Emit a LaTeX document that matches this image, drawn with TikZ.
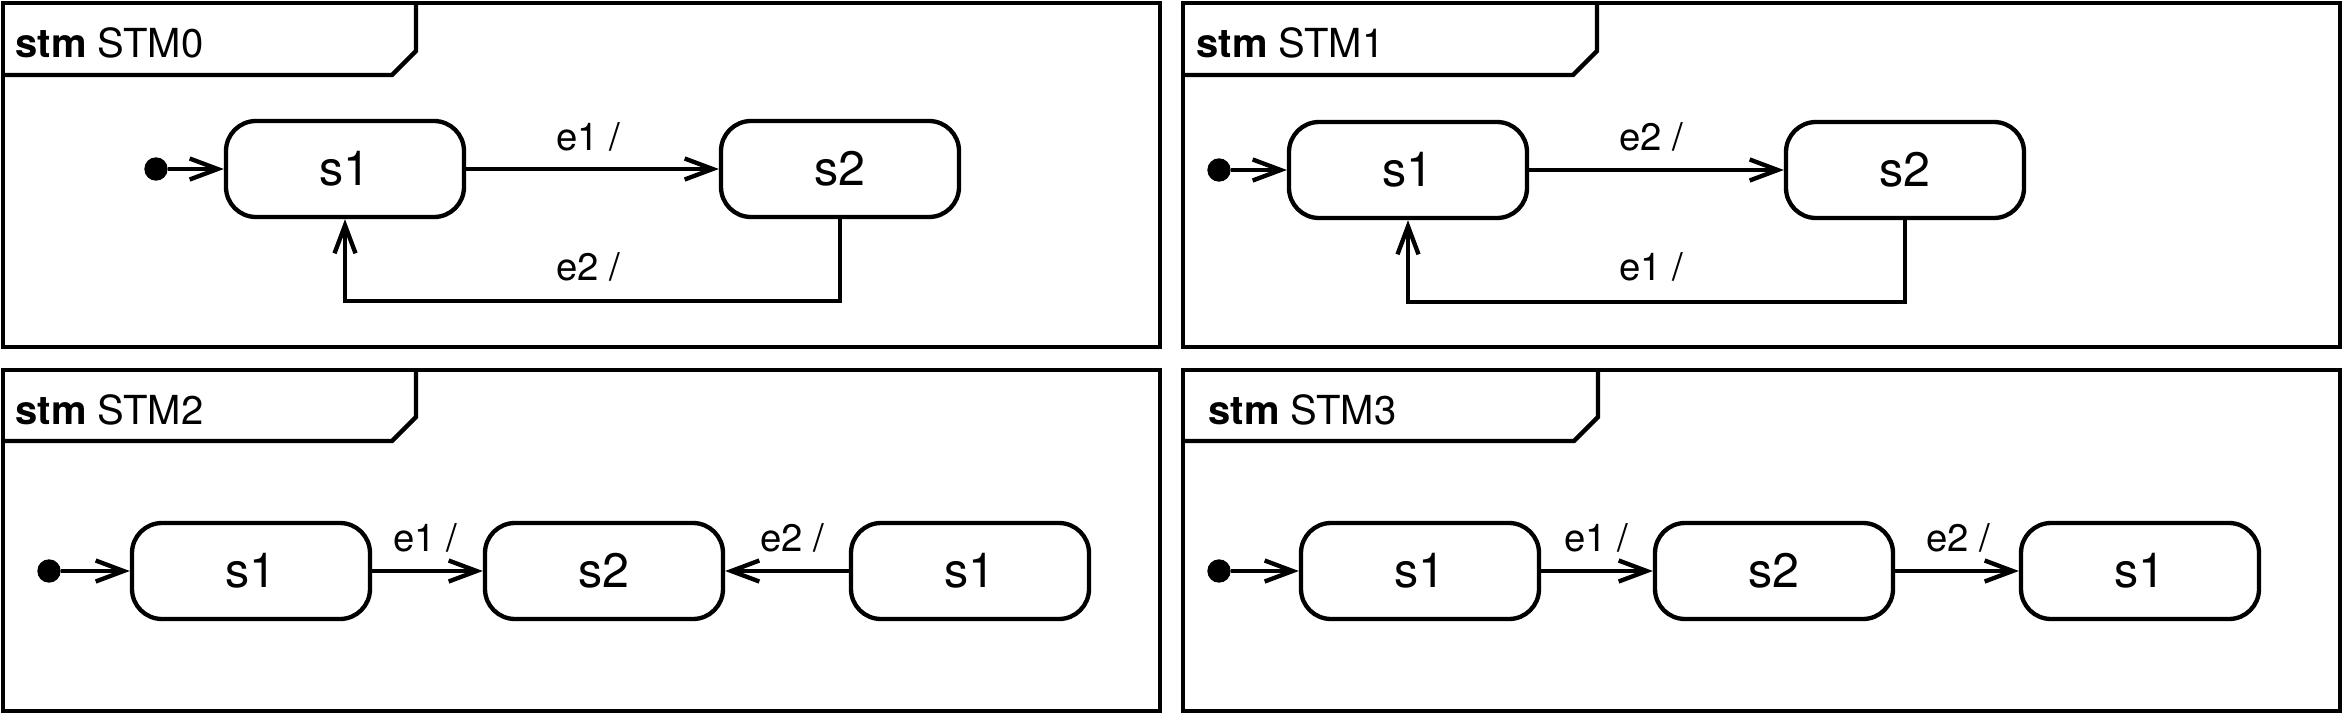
\documentclass[tikz,border=0pt]{standalone}
\usepackage{fontspec}
\setmainfont{TeX Gyre Heros}
\usetikzlibrary{arrows.meta}
\begin{document}
\begin{tikzpicture}[x=0.3pt,y=-0.3pt,
  frm/.style={line width=1.3pt,line join=miter},
  state/.style={draw,line width=1.3pt,rounded corners=9pt,minimum width=71.4pt,minimum height=28.8pt,inner sep=0pt,font=\fontsize{14.5}{17}\selectfont},
  init/.style={circle,fill,inner sep=0pt,minimum size=7pt},
  trans/.style={line width=1pt,-{Straight Barb[length=8.4pt,width=6.3pt,line width=1.3pt]}},
  lbl/.style={font=\fontsize{11.5}{13}\selectfont,inner sep=0pt},
  ttl/.style={font=\fontsize{12}{14}\selectfont,anchor=base west,inner sep=0pt}
]
\useasboundingbox (0,0) rectangle (2345,716);
% ---------- frames ----------
\draw[frm] (3,3) rectangle (1160,347);
\draw[frm] (3,75) -- (392,75) -- (416,51) -- (416,3);
\draw[frm] (1183,3) rectangle (2340,347);
\draw[frm] (1183,75) -- (1573,75) -- (1597,51) -- (1597,3);
\draw[frm] (3,370) rectangle (1160,711);
\draw[frm] (3,441) -- (392,441) -- (416,417) -- (416,370);
\draw[frm] (1183,370) rectangle (2340,711);
\draw[frm] (1183,441) -- (1574,441) -- (1598,417) -- (1598,370);
\node[ttl] (t0) at (15,58) {\textbf{stm} STM0};
\node[ttl] (t1) at (1196,58) {\textbf{stm} STM1};
\node[ttl] (t2) at (15,424) {\textbf{stm} STM2};
\node[ttl] (t3) at (1208,424) {\textbf{stm} STM3};
% ---------- STM0 ----------
\node[init] (i0) at (156,169) {};
\node[state] (a1) at (345,169) {s1};
\node[state] (a2) at (840,169) {s2};
\coordinate (ar) at (0,301);
\draw[trans] (i0) -- (a1);
\draw[trans] (a1) -- (a2);
\draw[trans] (a2.south) -- (a2.south |- ar) -| (a1.south);
\node[lbl] (la1) at (588,137) {e1 /};
\node[lbl] (la2) at (588,267) {e2 /};
% ---------- STM1 ----------
\node[init] (i1) at (1219,170) {};
\node[state] (b1) at (1408,170) {s1};
\node[state] (b2) at (1905,170) {s2};
\coordinate (br) at (0,302);
\draw[trans] (i1) -- (b1);
\draw[trans] (b1) -- (b2);
\draw[trans] (b2.south) -- (b2.south |- br) -| (b1.south);
\node[lbl] (lb1) at (1651,137) {e2 /};
\node[lbl] (lb2) at (1651,267) {e1 /};
% ---------- STM2 ----------
\node[init] (i2) at (49,571) {};
\node[state] (c1) at (251,571) {s1};
\node[state] (c2) at (604,571) {s2};
\node[state] (c3) at (970,571) {s1};
\draw[trans] (i2) -- (c1);
\draw[trans] (c1) -- (c2);
\draw[trans] (c3) -- (c2);
\node[lbl] (lc1) at (425,538) {e1 /};
\node[lbl] (lc2) at (792,538) {e2 /};
% ---------- STM3 ----------
\node[init] (i3) at (1219,571) {};
\node[state] (d1) at (1420,571) {s1};
\node[state] (d2) at (1774,571) {s2};
\node[state] (d3) at (2140,571) {s1};
\draw[trans] (i3) -- (d1);
\draw[trans] (d1) -- (d2);
\draw[trans] (d2) -- (d3);
\node[lbl] (ld1) at (1596,538) {e1 /};
\node[lbl] (ld2) at (1958,538) {e2 /};
\end{tikzpicture}
\end{document}
